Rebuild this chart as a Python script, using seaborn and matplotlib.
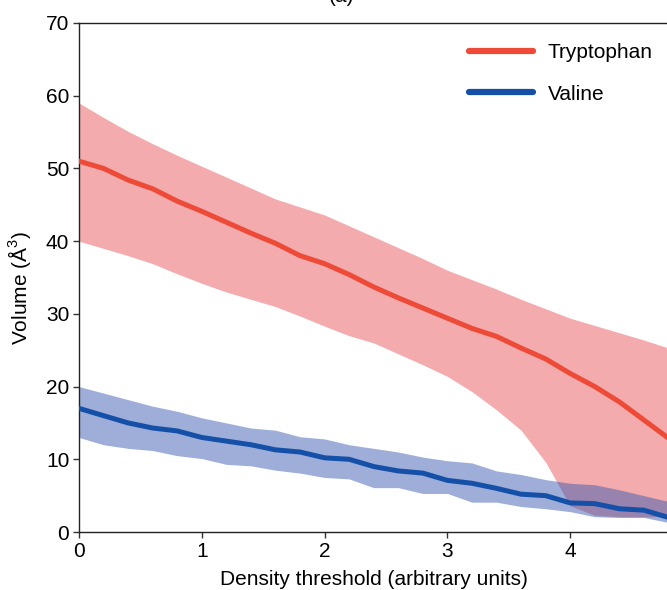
import numpy as np
import pandas as pd
import matplotlib
matplotlib.use("Agg")
import matplotlib.pyplot as plt
import seaborn as sns

# Density thresholds (arbitrary units)
threshold = [0.0, 0.2, 0.4, 0.6, 0.8, 1.0, 1.2, 1.4, 1.6, 1.8, 2.0, 2.2, 2.4,
             2.6, 2.8, 3.0, 3.2, 3.4, 3.6, 3.8, 4.0, 4.2, 4.4, 4.6, 4.8]

# Tryptophan volume: mean and spread
trp_mean = [51.0, 50.0, 48.4, 47.2, 45.5, 44.1, 42.6, 41.1, 39.7, 38.0, 36.9,
            35.4, 33.7, 32.2, 30.8, 29.4, 28.0, 26.9, 25.3, 23.8, 21.8, 20.0,
            17.9, 15.4, 12.9]
trp_upper = [59.0, 57.0, 55.1, 53.4, 51.8, 50.3, 48.8, 47.3, 45.8, 44.7, 43.6,
             42.1, 40.6, 39.1, 37.6, 36.0, 34.7, 33.4, 32.0, 30.7, 29.4, 28.4,
             27.4, 26.4, 25.3]
trp_lower = [40.0, 39.0, 38.0, 36.9, 35.5, 34.2, 33.0, 32.0, 31.0, 29.7, 28.3,
             27.0, 26.0, 24.5, 23.0, 21.4, 19.3, 16.8, 14.0, 9.6, 3.6, 2.3,
             2.1, 2.1, 2.1]

# Valine volume: mean and spread
val_mean = [17.0, 16.0, 15.0, 14.3, 13.9, 13.0, 12.5, 12.0, 11.3, 11.0, 10.2,
            10.0, 9.0, 8.4, 8.1, 7.1, 6.7, 6.0, 5.2, 5.0, 4.0, 3.9, 3.2, 3.0, 2.0]
val_upper = [20.0, 19.1, 18.2, 17.3, 16.6, 15.7, 15.0, 14.3, 14.0, 13.1, 12.8,
             12.0, 11.5, 11.0, 10.3, 9.8, 9.5, 8.4, 7.9, 7.2, 6.7, 6.5, 5.8,
             5.0, 4.2]
val_lower = [13.0, 12.0, 11.5, 11.2, 10.5, 10.1, 9.3, 9.1, 8.5, 8.1, 7.5, 7.3,
             6.1, 6.1, 5.3, 5.3, 4.1, 4.1, 3.5, 3.2, 2.8, 2.1, 2.0, 2.0, 1.3]

series_names = ["Tryptophan", "Valine"]
line_colors = ["#EE4A38", "#1550A8"]
band_colors = ["#E8454A", "#3456B0"]
band_alpha = [0.45, 0.48]

df = pd.concat([
    pd.DataFrame({"threshold": threshold, "volume": trp_mean, "residue": series_names[0]}),
    pd.DataFrame({"threshold": threshold, "volume": val_mean, "residue": series_names[1]}),
])

sns.set_style("ticks")
plt.rcParams["font.family"] = ["Liberation Sans", "DejaVu Sans"]
plt.rcParams["mathtext.fontset"] = "custom"
plt.rcParams["mathtext.rm"] = "Liberation Sans"
plt.rcParams["text.color"] = "black"
plt.rcParams["axes.labelcolor"] = "black"
plt.rcParams["xtick.labelcolor"] = "black"
plt.rcParams["ytick.labelcolor"] = "black"

FS = 15

fig = plt.figure(figsize=(6.67, 5.90), dpi=100)
ax = fig.add_axes([79 / 667, 1 - 532 / 590, (4.8 * 122.8) / 667, 509 / 590])

ax.fill_between(threshold, trp_lower, trp_upper, color=band_colors[0],
                alpha=band_alpha[0], linewidth=0, zorder=1)
ax.fill_between(threshold, val_lower, val_upper, color=band_colors[1],
                alpha=band_alpha[1], linewidth=0, zorder=2)

sns.lineplot(data=df, x="threshold", y="volume", hue="residue",
             hue_order=series_names, palette=line_colors, linewidth=3.6,
             ax=ax, zorder=3)

ax.set_xlim(0, 4.8)
ax.set_ylim(0, 70)
ax.set_xticks([0, 1, 2, 3, 4])
ax.set_yticks(range(0, 71, 10))
ax.tick_params(axis="both", labelsize=FS, length=4, width=1, color="#333333",
               labelcolor="black")
ax.tick_params(axis="x", pad=3)
ax.tick_params(axis="y", pad=3)
for side in ["left", "bottom", "top"]:
    ax.spines[side].set_color("#222222")
    ax.spines[side].set_linewidth(1.0)
ax.spines["right"].set_visible(False)

ax.set_xlabel("Density threshold (arbitrary units)", fontsize=FS, labelpad=7)
ax.set_ylabel("Volume (Å$^3$)", fontsize=FS, labelpad=9)
ax.yaxis.label.set_y(0.48)

leg = ax.legend(loc="upper right", frameon=False, fontsize=FS,
                handlelength=3.1, handletextpad=0.7, labelspacing=1.08,
                bbox_to_anchor=(0.995, 0.985), borderaxespad=0.2)
for h in leg.get_lines():
    h.set_linewidth(4.5)
for t in leg.get_texts():
    t.set_color("black")

fig.text(342 / 667, 1 - 1.5 / 590, "(a)", ha="center", va="baseline",
         fontsize=FS)

fig.savefig("out.png", dpi=100)
